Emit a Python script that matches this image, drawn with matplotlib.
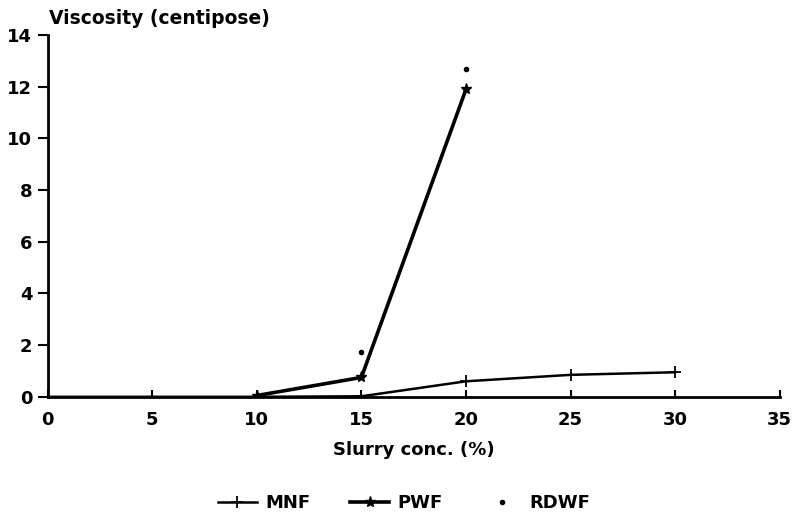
import matplotlib.pyplot as plt

# Slurry concentration (%) and viscosity (centipose)
mnf_x = [0, 5, 10, 15, 20, 25, 30]
mnf_y = [0.0, 0.0, 0.0, 0.02, 0.6, 0.85, 0.95]

pwf_x = [10, 15, 20]
pwf_y = [0.05, 0.75, 11.9]

rdwf_x = [15, 20]
rdwf_y = [1.75, 12.7]

x_ticks = [0, 5, 10, 15, 20, 25, 30, 35]
y_ticks = [0, 2, 4, 6, 8, 10, 12, 14]


def main():
    plt.rcParams['font.family'] = ['DejaVu Sans']
    plt.rcParams['font.weight'] = 'bold'

    fig = plt.figure(figsize=(7.94, 5.16), dpi=100)
    ax = fig.add_axes([0.060, 0.231, 0.922, 0.701])

    ax.plot(mnf_x, mnf_y, color='black', linewidth=1.8, marker='+',
            markersize=8, markeredgewidth=1.3, label='MNF')
    ax.plot(pwf_x, pwf_y, color='black', linewidth=2.6, marker='*',
            markersize=8, label='PWF')
    ax.plot(rdwf_x, rdwf_y, color='black', linestyle='none', marker='o',
            markersize=3, label='RDWF')

    ax.set_xlim(0, 35)
    ax.set_ylim(0, 14)
    ax.set_xticks(x_ticks)
    ax.set_yticks(y_ticks)
    ax.spines['top'].set_visible(False)
    ax.spines['right'].set_visible(False)
    for s in ['left', 'bottom']:
        ax.spines[s].set_linewidth(2.0)
    ax.tick_params(axis='x', direction='in', length=5, width=1.5,
                   labelsize=13, pad=10)
    ax.tick_params(axis='y', direction='out', length=7, width=1.5,
                   labelsize=13, pad=4)
    for lbl in ax.get_xticklabels() + ax.get_yticklabels():
        lbl.set_fontweight('bold')

    ax.set_xlabel('Slurry conc. (%)', fontsize=13, fontweight='bold',
                  labelpad=9)
    fig.text(0.062, 0.946, 'Viscosity (centipose)', fontsize=13.5,
             fontweight='bold', ha='left', va='bottom')

    fig.legend(loc='center', bbox_to_anchor=(0.509, 0.025), ncol=3,
               frameon=False, handlelength=2.17, columnspacing=2.2,
               handletextpad=0.45, prop={'weight': 'bold', 'size': 13})

    fig.savefig('out.png', dpi=100, facecolor='white')


if __name__ == "__main__":
    main()
